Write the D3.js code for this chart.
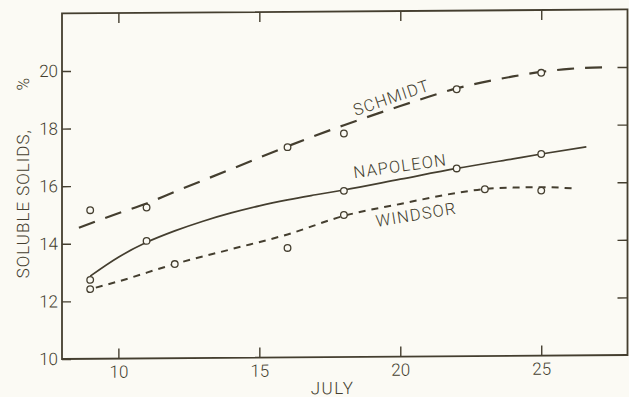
<!DOCTYPE html>
<html><head><meta charset="utf-8">
<script src="https://cdn.jsdelivr.net/npm/d3@7"></script>
<style>
html,body{margin:0;padding:0;background:#fbfaf4;}
svg{display:block;}
text{font-family:Roboto,"Liberation Sans",Arial,sans-serif;font-weight:300;}
</style>
</head><body>
<script>
// ---- data ----
const xTicks = [10, 15, 20, 25];
const yTicks = [10, 12, 14, 16, 18, 20];
const rightTicks = [12, 14, 16, 18, 20];

const schmidtDays = [9, 11, 16, 18, 22, 25];
const schmidtObs  = [15.16, 15.24, 17.30, 17.76, 19.27, 19.82];
const napoleonDays = [9, 11, 18, 22, 25];
const napoleonObs  = [12.74, 14.08, 15.77, 16.52, 17.00];
const windsorDays = [9, 12, 16, 18, 23, 25];
const windsorObs  = [12.42, 13.27, 13.80, 14.93, 15.79, 15.73];

// hand-fitted curves as drawn
const schmidtCurveX = [8.6, 10, 11, 12, 14, 16, 18, 20, 22, 24, 25, 26, 27.4];
const schmidtCurveY = [14.55, 15.05, 15.38, 15.78, 16.55, 17.33, 18.05, 18.7, 19.3, 19.7, 19.85, 19.95, 20.0];
const napoleonCurveX = [9.0, 10, 11, 12, 13, 14, 15, 16, 17, 18, 20, 22, 24, 25, 26.6];
const napoleonCurveY = [12.87, 13.52, 14.03, 14.42, 14.75, 15.03, 15.27, 15.47, 15.64, 15.8, 16.16, 16.52, 16.84, 17.0, 17.24];
const windsorCurveX = [9.2, 10, 12, 14, 16, 18, 20, 22, 23, 24, 25, 26.1];
const windsorCurveY = [12.47, 12.68, 13.27, 13.77, 14.27, 14.9, 15.3, 15.67, 15.8, 15.84, 15.85, 15.8];

const seriesNames = ["SCHMIDT", "NAPOLEON", "WINDSOR"];
const labelDay   = [19.7, 20.0, 20.57];
const labelValue = [18.95, 16.57, 14.88];
const labelAngle = [-18.5, -7.5, -9];

// ---- drawing ----
const W = 629, H = 397;
const ink = "#443e2f";
const bg = "#fbfaf4";
const m = {left: 62, right: 627.5, top: 13.4, bottom: 359};
const FONT = 'Roboto, "Liberation Sans", Arial, sans-serif';

const x = d3.scaleLinear().domain([8, 28.06]).range([m.left, m.right]);
const y = d3.scaleLinear().domain([10, 22.0]).range([m.bottom, m.top]);

const svg = d3.select("body").append("svg").attr("width", W).attr("height", H);
svg.append("rect").attr("width", W).attr("height", H).attr("fill", bg);

// slight scan tilt
const k = -4 / 565;
const g = svg.append("g")
  .attr("transform", `translate(0,${(-k * m.left).toFixed(3)}) skewY(${(Math.atan(k) * 180 / Math.PI).toFixed(4)})`);

function styleAxis(sel) {
  sel.select(".domain").remove();
  sel.selectAll(".tick line").attr("stroke", ink).attr("stroke-width", 1.4);
  sel.selectAll(".tick text").attr("fill", ink).attr("font-size", 17)
     .attr("font-family", FONT).attr("font-weight", 300);
}
g.append("g").attr("transform", `translate(${m.left},0)`)
  .call(d3.axisLeft(y).tickValues(yTicks).tickSize(-9).tickPadding(4).tickFormat(d3.format("d")))
  .call(styleAxis);
g.append("g").attr("transform", `translate(0,${m.bottom})`)
  .call(d3.axisBottom(x).tickValues(xTicks).tickSize(-10).tickPadding(7).tickFormat(d3.format("d")))
  .call(styleAxis);
g.append("g").attr("transform", `translate(0,${m.top})`)
  .call(d3.axisTop(x).tickValues(xTicks).tickSize(-10).tickFormat(""))
  .call(styleAxis);
g.append("g").attr("transform", `translate(${m.right},0)`)
  .call(d3.axisRight(y).tickValues(rightTicks).tickSize(-10).tickFormat(""))
  .call(styleAxis);

// frame
g.append("rect")
  .attr("x", m.left).attr("y", m.top)
  .attr("width", m.right - m.left).attr("height", m.bottom - m.top)
  .attr("fill", "none").attr("stroke", ink).attr("stroke-width", 1.8);

// curves
const line = d3.line().x(d => x(d[0])).y(d => y(d[1])).curve(d3.curveMonotoneX);
const curves = [
  {xs: schmidtCurveX, ys: schmidtCurveY, dash: "17,11", w: 2.2},
  {xs: napoleonCurveX, ys: napoleonCurveY, dash: null, w: 1.7},
  {xs: windsorCurveX, ys: windsorCurveY, dash: "7,6", w: 2.0}
];
curves.forEach(c => {
  g.append("path")
    .attr("d", line(d3.zip(c.xs, c.ys)))
    .attr("fill", "none").attr("stroke", ink)
    .attr("stroke-width", c.w)
    .attr("stroke-dasharray", c.dash);
});

// observed points
const obs = [
  d3.zip(schmidtDays, schmidtObs),
  d3.zip(napoleonDays, napoleonObs),
  d3.zip(windsorDays, windsorObs)
];
obs.forEach(pts => {
  g.selectAll(null).data(pts).enter().append("circle")
    .attr("cx", d => x(d[0])).attr("cy", d => y(d[1])).attr("r", 3.3)
    .attr("fill", bg).attr("stroke", ink).attr("stroke-width", 1.3);
});

// series labels
seriesNames.forEach((name, i) => {
  const px = x(labelDay[i]), py = y(labelValue[i]);
  g.append("text")
    .attr("transform", `translate(${px},${py}) rotate(${labelAngle[i]})`)
    .attr("text-anchor", "middle").attr("dominant-baseline", "middle")
    .attr("font-size", 16.5).attr("letter-spacing", 1.2)
    .attr("fill", ink).text(name);
});

// axis titles
g.append("text")
  .attr("transform", `translate(28.5,${(y(15.4)).toFixed(1)}) rotate(-90)`)
  .attr("text-anchor", "middle").attr("font-size", 17).attr("letter-spacing", 1)
  .attr("fill", ink).text("SOLUBLE SOLIDS,");
g.append("text")
  .attr("transform", `translate(28.5,${(y(19.55)).toFixed(1)}) rotate(-90)`)
  .attr("text-anchor", "middle").attr("font-size", 17)
  .attr("fill", ink).text("%");
g.append("text")
  .attr("x", x(17.6)).attr("y", 396)
  .attr("text-anchor", "middle").attr("font-size", 17).attr("letter-spacing", 1.5)
  .attr("fill", ink).text("JULY");
</script>
</body></html>
